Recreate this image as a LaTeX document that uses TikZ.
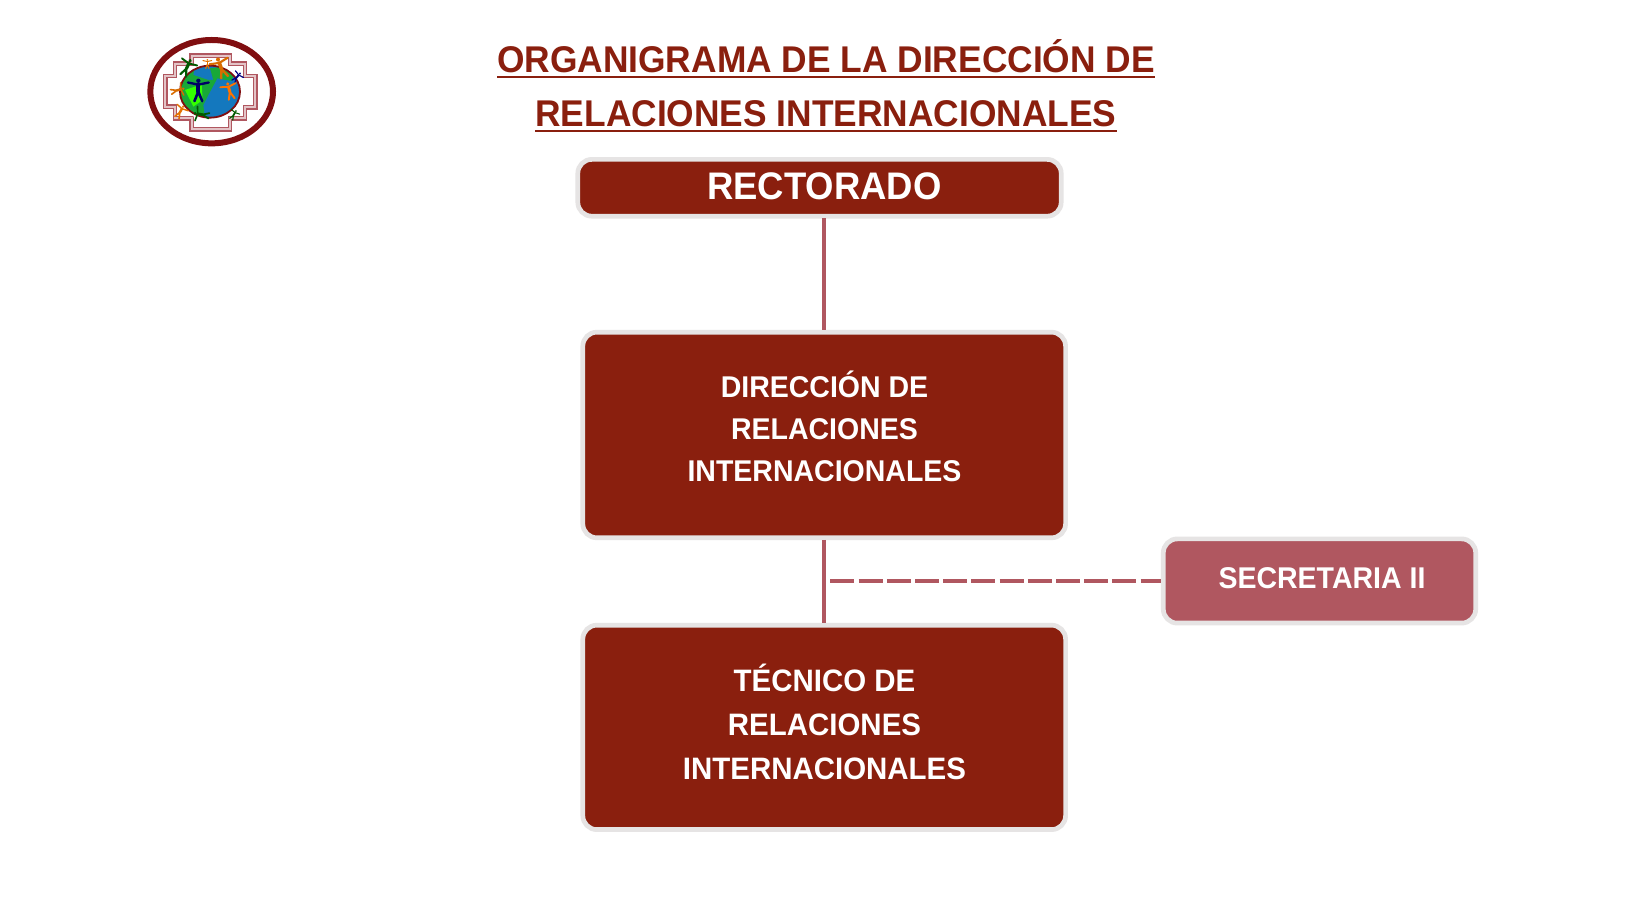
\documentclass[tikz,border=0pt]{standalone}
\usepackage{fontspec}
\setmainfont[BoldFeatures={FakeStretch=0.95}]{Liberation Sans}
\definecolor{wine}{HTML}{8A1F0E}
\definecolor{logored}{HTML}{800E10}
\definecolor{rose}{HTML}{B05760}
\definecolor{edgegrey}{HTML}{E6E4E4}
\definecolor{globeblue}{HTML}{1478BE}
\definecolor{globegreen}{HTML}{18A838}
\newsavebox{\headbox}
\newcommand{\headline}[1]{\sbox{\headbox}{#1}\leavevmode\rlap{\rule[-2.6pt]{\wd\headbox}{1.2pt}}\usebox{\headbox}}
\newcommand{\stickfig}[5]{% x y rot colour scale
  \begin{scope}[shift={(#1,#2)},rotate=#3,scale=#5,line cap=round,line join=round,draw=#4,fill=#4]
    \fill (0,-19) circle (5);
    \draw[line width=#5*0.9pt] (-24,-15) -- (0,-10) -- (24,-15);
    \draw[line width=#5*1.5pt] (0,-10) -- (0,6);
    \draw[line width=#5*1pt] (-9,28) -- (0,6) -- (9,28);
  \end{scope}}
\tikzset{
  x=0.5pt,y=-0.5pt,
  boxbase/.style={draw=edgegrey,line width=2.35pt,rounded corners=7pt,inner sep=0pt,outer sep=0pt},
  winebox/.style={boxbase,fill=wine},
  rosebox/.style={boxbase,fill=rose},
  boxtext/.style={text=white,font=\bfseries,align=center,inner sep=0pt},
  link/.style={draw=rose,line width=2pt,shorten <=1.1pt,shorten >=1.1pt},
  dashlink/.style={draw=rose,line width=2pt,shorten >=1.1pt,dash pattern=on 12pt off 2.1pt},
  heading/.style={text=wine,font=\bfseries\fontsize{18.6}{27}\selectfont,align=center,inner sep=0pt},
}
\begin{document}
\begin{tikzpicture}
\useasboundingbox[fill=white] (0,0) rectangle (1640,924);
% logo
\begin{scope}[shift={(130,25)},x=0.16667pt,y=-0.16667pt]
  \draw[rose,line width=0.7pt,double=rose!35!white,double distance=0.9pt,line join=miter]
    (185,92)--(300,92)--(300,116)--(345,116)--(345,153)--(376,153)--(376,247)--(345,247)--(345,280)--(300,280)--(300,313)--(185,313)--(185,280)--(135,280)--(135,245)--(106,245)--(106,153)--(135,153)--(135,116)--(185,116)--cycle;
  \fill[white] (240,200) ellipse (98 and 86);
  \begin{scope}
    \clip (240,200) ellipse (90 and 78);
    \fill[globeblue] (150,120) rectangle (335,285);
    \fill[globegreen] (150,120) -- (195,120) -- (190,150) -- (235,165) -- (250,165) -- (240,130) -- (320,120) -- (305,168) -- (262,160) -- (235,210) -- (220,240) -- (225,285) -- (150,285) -- cycle;
    \fill[green!80!yellow] (165,195) -- (215,178) -- (218,225) -- (190,245) -- cycle;
  \end{scope}
  \draw[logored,line width=0.9pt] (240,200) ellipse (90 and 78);
  \stickfig{205}{192}{0}{blue!40!black}{1.3}
  \stickfig{172}{125}{-25}{green!35!black}{1.05}
  \stickfig{272}{125}{20}{orange!85!black}{1.2}
  \stickfig{232}{115}{0}{orange!90!black}{.55}
  \stickfig{322}{155}{-40}{blue!50!black}{.65}
  \stickfig{298}{195}{15}{orange!90!red}{1}
  \stickfig{145}{195}{-75}{orange!85!black}{.8}
  \stickfig{152}{258}{-30}{orange!90!black}{.8}
  \stickfig{212}{268}{80}{green!35!black}{.9}
  \stickfig{312}{268}{-30}{green!35!black}{.6}
  \draw[logored,line width=3pt] (245,200) ellipse (184 and 155);
\end{scope}
% title
\node[heading] (title) at (826,86) {\headline{ORGANIGRAMA DE LA DIRECCIÓN DE}\\\headline{RELACIONES INTERNACIONALES}};
% boxes
\node[winebox,minimum width=241.7pt,minimum height=28.4pt] (rect) at (819.5,187.8) {};
\node[winebox,minimum width=241.4pt,minimum height=102.8pt] (dir) at (824.2,435) {};
\node[winebox,minimum width=241.4pt,minimum height=102.2pt] (tec) at (824.2,727.4) {};
\node[rosebox,minimum width=156.2pt,minimum height=42.1pt] (sec) at (1319.5,581) {};
% labels
\node[boxtext,font=\bfseries\fontsize{19.2}{24}\selectfont] (recttext) at (824.5,186) {RECTORADO};
\node[boxtext,font=\bfseries\fontsize{15}{21}\selectfont] (dirtext) at (824.5,426) {DIRECCIÓN DE\\RELACIONES\\INTERNACIONALES};
\node[boxtext,font=\bfseries\fontsize{15.5}{22}\selectfont] (tectext) at (824.5,722) {TÉCNICO DE\\RELACIONES\\INTERNACIONALES};
\node[boxtext,font=\bfseries\fontsize{15}{20}\selectfont] (sectext) at (1322,578) {SECRETARIA II};
% connectors
\coordinate (branch) at (dir.south |- sec.west);
\draw[link] (dir.north |- rect.south) -- (dir.north);
\draw[link] (dir.south) -- (tec.north);
\draw[dashlink] ([xshift=3.1pt]branch) -- (sec.west);
\end{tikzpicture}
\end{document}
